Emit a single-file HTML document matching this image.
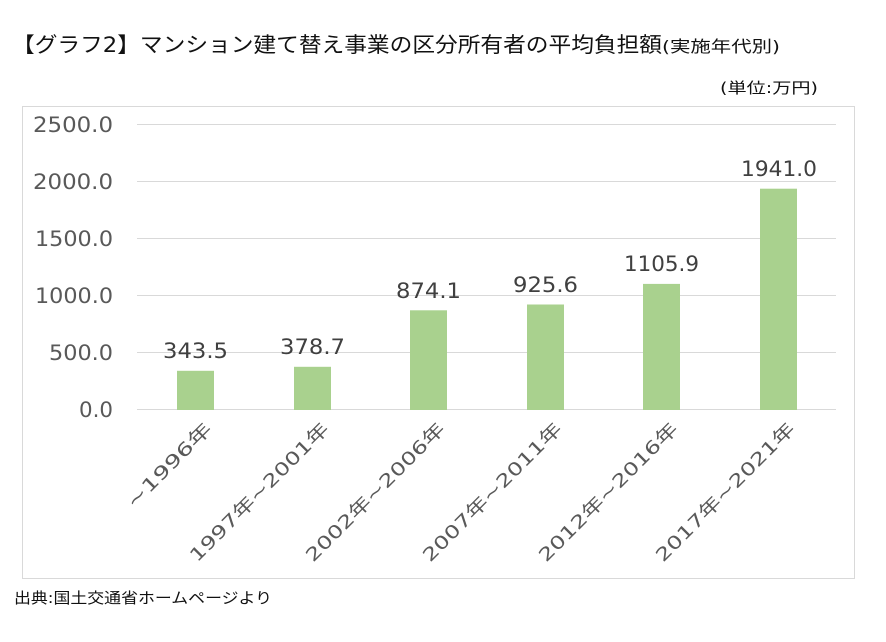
<!DOCTYPE html>
<html><head><meta charset="utf-8"><style>
body{margin:0;background:#fff;width:886px;height:637px;overflow:hidden;font-family:"Liberation Sans","Noto Sans CJK JP",sans-serif}
</style></head><body>
<svg width="886" height="637" xmlns="http://www.w3.org/2000/svg" font-family="DejaVu Sans, Noto Sans CJK JP, sans-serif">
<text x="12" y="52" font-size="21" fill="#111" textLength="650" lengthAdjust="spacingAndGlyphs">【グラフ2】マンション建て替え事業の区分所有者の平均負担額</text>
<text x="662" y="52" font-size="16" fill="#111" textLength="118" lengthAdjust="spacingAndGlyphs">(実施年代別)</text>
<text x="720" y="93" font-size="15" fill="#111" textLength="98" lengthAdjust="spacingAndGlyphs">(単位:万円)</text>
<rect x="22.5" y="106.5" width="832" height="472" fill="none" stroke="#d9d9d9"/>
<g stroke="#d9d9d9" stroke-width="1">
<line x1="137" x2="836" y1="124.5" y2="124.5"/><line x1="137" x2="836" y1="181.5" y2="181.5"/>
<line x1="137" x2="836" y1="238.5" y2="238.5"/><line x1="137" x2="836" y1="295.5" y2="295.5"/>
<line x1="137" x2="836" y1="352.5" y2="352.5"/><line x1="137" x2="836" y1="409.5" y2="409.5"/>
</g>
<g font-size="21" fill="#595959">
<text x="33" y="132" textLength="80" lengthAdjust="spacingAndGlyphs">2500.0</text>
<text x="33" y="189" textLength="80" lengthAdjust="spacingAndGlyphs">2000.0</text>
<text x="35" y="246" textLength="78" lengthAdjust="spacingAndGlyphs">1500.0</text>
<text x="35" y="303" textLength="78" lengthAdjust="spacingAndGlyphs">1000.0</text>
<text x="49" y="360" textLength="64" lengthAdjust="spacingAndGlyphs">500.0</text>
<text x="79" y="417" textLength="34" lengthAdjust="spacingAndGlyphs">0.0</text>
</g>
<g fill="#a9d18e">
<rect x="177" y="370.8" width="37" height="39.2"/>
<rect x="294" y="366.8" width="37" height="43.2"/>
<rect x="410" y="310.3" width="37" height="99.7"/>
<rect x="527" y="304.5" width="37" height="105.5"/>
<rect x="643" y="283.9" width="37" height="126.1"/>
<rect x="760" y="188.7" width="37" height="221.3"/>
</g>
<g font-size="21" fill="#404040">
<text x="163" y="358" textLength="65" lengthAdjust="spacingAndGlyphs">343.5</text>
<text x="280" y="354" textLength="65" lengthAdjust="spacingAndGlyphs">378.7</text>
<text x="396" y="298" textLength="65" lengthAdjust="spacingAndGlyphs">874.1</text>
<text x="513" y="292" textLength="65" lengthAdjust="spacingAndGlyphs">925.6</text>
<text x="624" y="271" textLength="75" lengthAdjust="spacingAndGlyphs">1105.9</text>
<text x="741" y="176" textLength="76" lengthAdjust="spacingAndGlyphs">1941.0</text>
</g>
<g font-size="18" fill="#595959">
<text transform="translate(213,430) rotate(-45)" x="-112" textLength="112" lengthAdjust="spacingAndGlyphs">~1996年</text>
<text transform="translate(330,430) rotate(-45)" x="-188" textLength="188" lengthAdjust="spacingAndGlyphs">1997年~2001年</text>
<text transform="translate(446,430) rotate(-45)" x="-188" textLength="188" lengthAdjust="spacingAndGlyphs">2002年~2006年</text>
<text transform="translate(563,430) rotate(-45)" x="-188" textLength="188" lengthAdjust="spacingAndGlyphs">2007年~2011年</text>
<text transform="translate(679,430) rotate(-45)" x="-188" textLength="188" lengthAdjust="spacingAndGlyphs">2012年~2016年</text>
<text transform="translate(796,430) rotate(-45)" x="-188" textLength="188" lengthAdjust="spacingAndGlyphs">2017年~2021年</text>
</g>
<text x="14" y="603" font-size="15" fill="#111" textLength="258" lengthAdjust="spacingAndGlyphs">出典:国土交通省ホームページより</text>
</svg>
</body></html>
